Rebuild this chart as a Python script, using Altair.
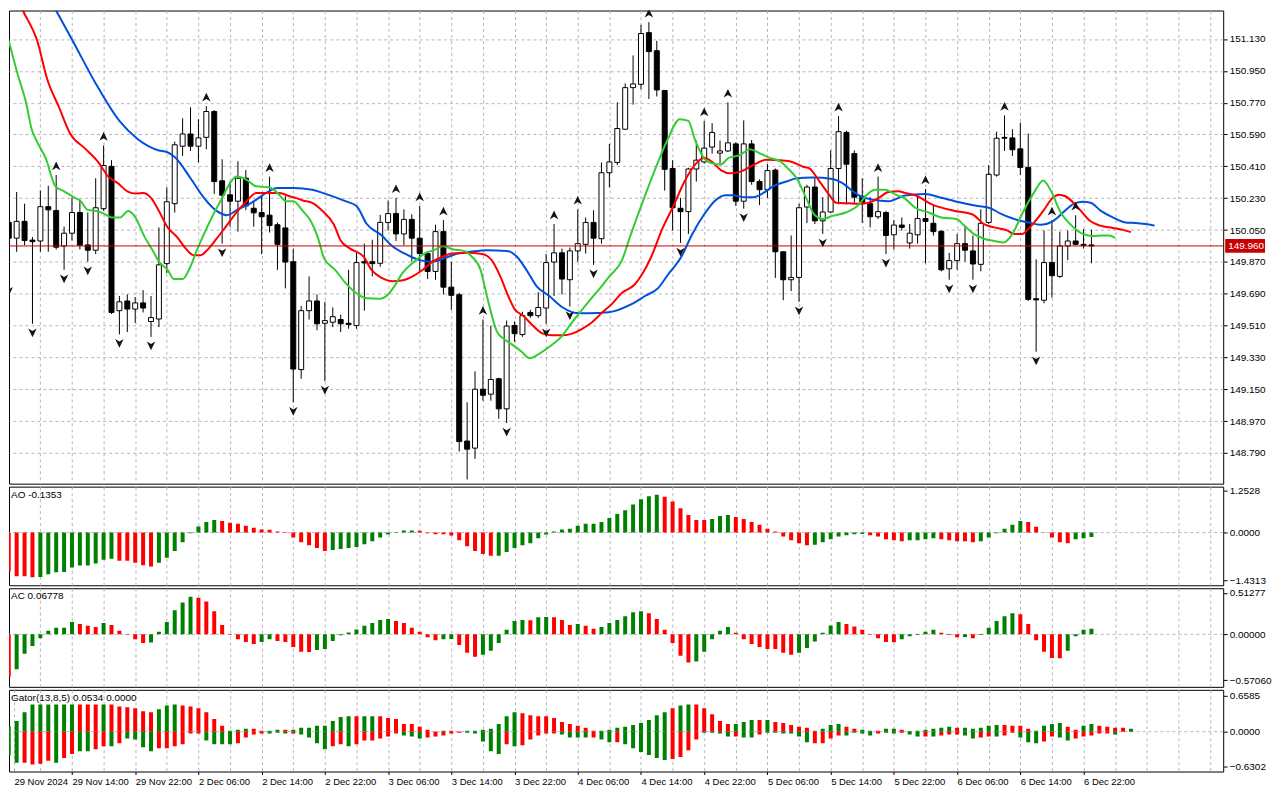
import json
import altair as alt
import pandas as pd

FONT = "Liberation Sans"
GRID = "#B8B2BE"
BLUE = "#0050DC"
RED = "#FF0000"
LIME = "#32CD32"
UPC = "#008000"
DNC = "#FF0000"
PRICE_RED = "#C80000"

# ---------------- data: hourly candles ----------------
opens = [
    150.093, 150.004, 150.099, 149.993, 149.988, 150.182, 150.160, 149.960, 150.032, 150.149,
    149.966, 149.936, 150.171, 150.410, 149.594, 149.649, 149.603, 149.638, 149.533, 149.547,
    149.860, 150.199, 150.524, 150.593, 150.524, 150.574, 150.720, 150.328, 150.249, 150.213,
    150.343, 150.173, 150.149, 150.134, 150.080, 150.062, 149.871, 149.261, 149.594, 149.649,
    149.523, 149.529, 149.544, 149.523, 149.510, 149.871, 149.871, 149.862, 150.093, 150.143,
    150.028, 150.110, 150.004, 149.917, 149.816, 150.041, 149.727, 149.684, 148.857, 148.817,
    149.150, 149.122, 149.209, 149.039, 149.510, 149.459, 149.584, 149.566, 149.609, 149.869,
    149.921, 149.769, 149.932, 149.969, 150.093, 150.001, 150.374, 150.432, 150.620, 150.855,
    150.874, 151.166, 151.064, 150.839, 150.398, 150.173, 150.154, 150.395, 150.435, 150.519,
    150.485, 150.497, 150.537, 150.213, 150.537, 150.324, 150.278, 150.389, 149.927, 149.769,
    149.782, 150.180, 150.293, 150.102, 150.152, 150.398, 150.602, 150.482, 150.241, 150.199,
    150.125, 150.149, 150.023, 150.078, 149.977, 150.023, 150.115, 150.088, 150.043, 149.831,
    149.877, 149.973, 149.932, 149.856, 150.093, 150.361, 150.574, 150.571, 150.509, 150.404,
    149.662, 149.653, 149.866, 149.788, 149.960, 149.988, 149.969, 149.966,
]
highs = [
    150.139, 150.265, 150.199, 150.010, 150.273, 150.300, 150.361, 150.069, 150.232, 150.223,
    150.149, 150.343, 150.528, 150.445, 149.677, 149.686, 149.671, 149.710, 149.677, 150.065,
    150.291, 150.550, 150.682, 150.744, 150.676, 150.750, 150.728, 150.450, 150.324, 150.439,
    150.389, 150.213, 150.241, 150.352, 150.093, 150.241, 149.945, 149.621, 149.788, 149.686,
    149.644, 149.612, 149.572, 149.825, 149.927, 149.973, 149.995, 150.136, 150.217, 150.232,
    150.167, 150.139, 150.186, 149.927, 150.080, 150.106, 149.871, 149.695, 149.076, 149.251,
    149.544, 149.510, 149.215, 149.538, 149.533, 149.588, 149.599, 149.699, 149.914, 150.084,
    149.945, 149.951, 150.167, 150.121, 150.162, 150.432, 150.537, 150.772, 150.879, 151.037,
    151.210, 151.225, 151.120, 150.842, 150.445, 150.232, 150.402, 150.556, 150.667, 150.654,
    150.556, 150.772, 150.546, 150.670, 150.559, 150.337, 150.423, 150.398, 149.927, 150.019,
    150.199, 150.306, 150.343, 150.236, 150.500, 150.694, 150.611, 150.500, 150.343, 150.236,
    150.352, 150.158, 150.106, 150.121, 150.084, 150.241, 150.282, 150.195, 150.047, 149.921,
    150.028, 150.069, 150.019, 150.167, 150.417, 150.606, 150.698, 150.620, 150.657, 150.596,
    149.884, 150.047, 150.106, 150.041, 150.047, 150.134, 150.056, 150.052,
]
lows = [
    149.755, 149.927, 149.964, 149.520, 149.927, 149.927, 149.940, 149.825, 149.991, 149.940,
    149.871, 149.914, 150.158, 149.575, 149.460, 149.473, 149.525, 149.584, 149.446, 149.501,
    149.806, 150.149, 150.469, 150.497, 150.432, 150.506, 150.254, 149.973, 150.069, 150.041,
    150.162, 150.069, 149.914, 150.036, 149.825, 149.720, 149.076, 149.209, 149.544, 149.483,
    149.196, 149.501, 149.473, 149.492, 149.492, 149.594, 149.788, 149.843, 150.047, 149.988,
    149.964, 149.871, 149.816, 149.773, 149.769, 149.686, 149.599, 148.798, 148.640, 148.756,
    149.085, 149.085, 148.983, 148.959, 149.418, 149.446, 149.553, 149.553, 149.520, 149.677,
    149.686, 149.618, 149.871, 149.917, 149.853, 149.973, 150.291, 150.417, 150.617, 150.759,
    150.846, 150.791, 150.805, 150.273, 150.047, 149.977, 150.028, 150.324, 150.426, 150.482,
    150.426, 150.491, 150.186, 150.171, 150.306, 150.191, 150.232, 149.779, 149.653, 149.705,
    149.644, 150.090, 150.084, 150.028, 150.145, 150.195, 150.195, 150.204, 150.090, 150.065,
    150.112, 149.914, 149.940, 150.047, 149.945, 149.973, 149.862, 150.019, 149.816, 149.769,
    149.825, 149.871, 149.769, 149.816, 150.084, 150.352, 150.497, 150.469, 150.361, 149.649,
    149.362, 149.636, 149.668, 149.779, 149.880, 149.964, 149.945, 149.862,
]
closes = [
    150.004, 150.099, 149.991, 149.984, 150.182, 150.164, 149.953, 150.032, 150.149, 149.964,
    149.936, 150.176, 150.415, 149.584, 149.644, 149.603, 149.638, 149.609, 149.555, 149.853,
    150.210, 150.532, 150.593, 150.524, 150.571, 150.720, 150.324, 150.247, 150.213, 150.343,
    150.186, 150.147, 150.125, 150.075, 149.969, 149.869, 149.264, 149.594, 149.649, 149.520,
    149.538, 149.560, 149.520, 149.516, 149.866, 149.864, 149.860, 150.093, 150.143, 150.028,
    150.110, 150.004, 149.917, 149.816, 150.041, 149.727, 149.681, 148.854, 148.811, 149.150,
    149.116, 149.205, 149.039, 149.507, 149.464, 149.566, 149.566, 149.612, 149.866, 149.921,
    149.773, 149.932, 149.973, 150.093, 150.004, 150.374, 150.435, 150.624, 150.855, 150.876,
    151.161, 151.059, 150.842, 150.393, 150.176, 150.154, 150.395, 150.445, 150.513, 150.602,
    150.497, 150.543, 150.213, 150.537, 150.324, 150.278, 150.386, 149.927, 149.769, 149.782,
    150.176, 150.293, 150.102, 150.152, 150.398, 150.606, 150.422, 150.236, 150.204, 150.125,
    150.154, 150.019, 150.078, 150.065, 150.032, 150.115, 150.099, 150.041, 149.825, 149.877,
    149.973, 149.936, 149.858, 150.088, 150.365, 150.569, 150.569, 150.504, 150.404, 149.658,
    149.655, 149.866, 149.792, 149.960, 149.988, 149.969, 149.962, 149.960,
]
up_fractals = [6, 12, 25, 33, 49, 52, 55, 60, 69, 72, 81, 88, 91, 105, 110, 116, 126, 132, 135]
down_fractals = [0, 3, 7, 10, 14, 18, 27, 36, 40, 58, 63, 68, 71, 74, 85, 93, 100, 103, 111, 119, 122, 130]

# Alligator (jaw/teeth/lips are shifted forward 8/5/3 bars)
jaw_x = [0, 3, 6, 8, 11, 14, 16.3, 19, 20, 21, 23, 24.7, 26.3, 27.6, 29, 30.7, 32.6, 34, 36, 38.4,
         39.7, 42.6, 44, 45.3, 47.2, 48.4, 50.5, 52, 53.6, 55.1, 56.8, 58.4, 60.5, 63, 64.3, 65.5,
         66.8, 68.4, 70.1, 71.8, 73.4, 75.9, 78.8, 80.5, 82.2, 83.4, 85.1, 86.5, 88, 89.3, 90.7,
         91.7, 93, 94.2, 95.5, 96.7, 98.4, 99.7, 101.7, 104.2, 105.5, 106.8, 108, 109.2, 111.3,
         113.4, 115.9, 118, 119.7, 122.6, 124.2, 125.5, 126.7, 128, 129, 130.5, 131.3, 132.5,
         133.4, 134.8, 135.9, 136.9, 138.2, 139.7, 141.3, 142.6, 143.8, 145]
jaw_y = [151.786, 151.545, 151.290, 151.127, 150.879, 150.667, 150.565, 150.500, 150.491, 150.463,
         150.343, 150.232, 150.158, 150.134, 150.167, 150.204, 150.260, 150.287, 150.287, 150.278,
         150.260, 150.213, 150.186, 150.084, 150.019, 149.964, 149.908, 149.880, 149.871, 149.890,
         149.917, 149.927, 149.936, 149.932, 149.899, 149.825, 149.732, 149.677, 149.612, 149.581,
         149.579, 149.585, 149.631, 149.677, 149.723, 149.797, 149.899, 150.028, 150.139, 150.213,
         150.247, 150.247, 150.236, 150.236, 150.260, 150.297, 150.324, 150.343, 150.347, 150.339,
         150.315, 150.269, 150.236, 150.223, 150.213, 150.245, 150.254, 150.232, 150.213, 150.186,
         150.173, 150.143, 150.121, 150.102, 150.093, 150.080, 150.084, 150.112, 150.149, 150.199,
         150.210, 150.204, 150.158, 150.121, 150.093, 150.090, 150.084, 150.075]
teeth_x = [0, 1.8, 3.6, 4.9, 6.3, 7.8, 9.7, 11.3, 12.6, 13.8, 15, 16.1, 17, 18, 19, 20.1, 21.3, 22.4,
           23.4, 24.3, 25.1, 26.3, 27.4, 28.8, 30.1, 31.3, 32.6, 34.3, 35.5, 36.3, 37.2, 38.4, 39.7,
           41.1, 42, 43.2, 44.9, 45.9, 47.2, 48.6, 49.9, 51.1, 52.4, 53.6, 54.7, 56.1, 58, 59.9,
           61.1, 62.2, 63.2, 64, 65.1, 66.3, 67.6, 68.8, 70.1, 71.3, 72.6, 73.8, 75.1, 76.3, 77.6,
           79.2, 80.1, 81.3, 82.6, 84.2, 85.5, 86.8, 88, 89, 90.1, 91.3, 92.6, 94.2, 95.9, 97.2,
           98.8, 100.5, 101.3, 102.6, 103.8, 104.7, 106.3, 107.8, 108.8, 110.1, 111.3, 112.6, 113.4,
           114.7, 116.8, 119.7, 121.9, 123.4, 124.7, 126.4, 127.2, 128.2, 129.2, 130.9, 132.1,
           132.9, 133.7, 135.5, 136.8, 138.1, 139.7, 141, 142]
teeth_y = [151.471, 151.290, 151.120, 150.898, 150.750, 150.593, 150.509, 150.435, 150.352, 150.315,
           150.269, 150.256, 150.260, 150.232, 150.158, 150.065, 150.010, 149.945, 149.908, 149.908,
           149.936, 150.001, 150.065, 150.149, 150.213, 150.260, 150.260, 150.260, 150.241, 150.232,
           150.217, 150.204, 150.158, 150.084, 149.991, 149.945, 149.899, 149.825, 149.779, 149.760,
           149.766, 149.788, 149.825, 149.871, 149.895, 149.917, 149.921, 149.914, 149.880, 149.788,
           149.677, 149.603, 149.566, 149.510, 149.464, 149.455, 149.455, 149.464, 149.492, 149.529,
           149.584, 149.631, 149.695, 149.742, 149.797, 149.899, 150.047, 150.195, 150.324, 150.417,
           150.458, 150.435, 150.389, 150.371, 150.380, 150.417, 150.448, 150.445, 150.439, 150.408,
           150.398, 150.324, 150.250, 150.204, 150.201, 150.199, 150.204, 150.232, 150.265, 150.269,
           150.260, 150.247, 150.195, 150.158, 150.139, 150.084, 150.065, 150.047, 150.028, 150.028,
           150.065, 150.158, 150.232, 150.250, 150.241, 150.167, 150.102, 150.075, 150.062, 150.051,
           150.038]
lips_x = [0, 1.1, 2.2, 2.9, 3.4, 4.7, 5.9, 7, 8.2, 9.1, 10, 11.1, 12.2, 13, 14.1, 15.1, 15.9, 17.2,
          18.2, 19, 20.1, 20.9, 22, 22.8, 23.8, 24.9, 25.9, 27, 28, 28.8, 30.1, 31.3, 33, 34, 35.1,
          36, 37.2, 38.2, 39.1, 39.9, 41.3, 42.6, 44.2, 45.3, 46.9, 48, 48.8, 49.8, 51.3, 52.6, 53.8,
          54.9, 56.3, 57.6, 58.6, 59.7, 60.5, 61.8, 62.6, 63.8, 64.9, 65.9, 67.2, 68.4, 69.9, 71.3,
          72.6, 73.8, 74.7, 76, 77.6, 78.6, 80.1, 82, 83.4, 84.9, 86, 86.8, 88, 89.1, 90.1, 91.1,
          92.4, 93.8, 95.1, 96.3, 97.6, 98.6, 99.7, 100.9, 101.9, 103, 104.2, 105.9, 107.6, 108.4,
          109.6, 110.9, 112.2, 113.4, 114.7, 116.4, 118, 119.9, 120.9, 122.1, 123.4, 124.7, 125.9,
          127, 128.2, 129.7, 130.9, 131.9, 133, 134.5, 135.9, 137.2, 138.4, 139.2, 140]
lips_y = [151.120, 150.935, 150.768, 150.620, 150.565, 150.454, 150.297, 150.269, 150.236, 150.213,
          150.164, 150.158, 150.139, 150.121, 150.121, 150.158, 150.130, 150.010, 149.936, 149.871,
          149.825, 149.773, 149.773, 149.825, 149.936, 150.047, 150.139, 150.232, 150.315, 150.352,
          150.334, 150.297, 150.291, 150.260, 150.213, 150.213, 150.158, 150.102, 150.010, 149.890,
          149.825, 149.751, 149.686, 149.664, 149.662, 149.686, 149.732, 149.806, 149.871, 149.917,
          149.936, 149.958, 149.940, 149.932, 149.899, 149.825, 149.677, 149.473, 149.436, 149.399,
          149.362, 149.325, 149.353, 149.390, 149.446, 149.529, 149.603, 149.668, 149.714, 149.788,
          149.880, 150.010, 150.195, 150.417, 150.565, 150.676, 150.667, 150.565, 150.454, 150.426,
          150.421, 150.458, 150.472, 150.506, 150.482, 150.458, 150.439, 150.398, 150.343, 150.232,
          150.139, 150.112, 150.130, 150.149, 150.195, 150.241, 150.278, 150.278, 150.250, 150.228,
          150.176, 150.149, 150.121, 150.112, 150.075, 150.028, 150.001, 149.988, 149.979, 150.028,
          150.139, 150.260, 150.330, 150.269, 150.158, 150.075, 150.028, 150.016, 150.019, 150.019,
          150.006]

# Awesome Oscillator
ao = [
    -1.168, -1.314, -1.314, -1.343, -1.34, -1.255, -1.197, -1.19, -1.051, -0.992,
    -0.99, -0.934, -0.817, -0.788, -0.846, -0.85, -0.905, -0.983, -1.022, -0.905,
    -0.759, -0.555, -0.292, -0.019, 0.185, 0.321, 0.379, 0.350, 0.292, 0.263,
    0.204, 0.146, 0.088, 0.085, 0.029, -0.01, -0.146, -0.292, -0.379, -0.467,
    -0.555, -0.525, -0.496, -0.467, -0.438, -0.350, -0.263, -0.146, -0.058, -0.015,
    0.058, 0.06, 0.055, -0.02, -0.049, -0.05, -0.088, -0.234, -0.409, -0.555,
    -0.642, -0.701, -0.695, -0.584, -0.467, -0.379, -0.321, -0.175, -0.058, 0.029,
    0.088, 0.117, 0.204, 0.263, 0.266, 0.321, 0.438, 0.555, 0.671, 0.847,
    1.002, 1.090, 1.138, 1.080, 0.934, 0.730, 0.525, 0.379, 0.375, 0.409,
    0.496, 0.525, 0.467, 0.409, 0.321, 0.234, 0.117, 0.029, -0.117, -0.234,
    -0.321, -0.379, -0.370, -0.292, -0.204, -0.117, -0.078, -0.049, -0.04, -0.078,
    -0.117, -0.204, -0.234, -0.263, -0.234, -0.23, -0.204, -0.175, -0.204, -0.234,
    -0.263, -0.265, -0.292, -0.263, -0.146, -0.02, 0.117, 0.234, 0.350, 0.321,
    0.175, -0.005, -0.146, -0.292, -0.321, -0.204, -0.175, -0.1353,
]
ao_color_runs = "r4 g10 r5 g8 r14 g11 r10 g21 r6 g3 r10 g7 r5 g4 r5 g6 r6 g3"

# Accelerator Oscillator
ac = [
    -0.527, -0.434, -0.241, -0.145, -0.048, 0.044, 0.080, 0.082, 0.153, 0.129,
    0.105, 0.092, 0.141, 0.117, 0.044, -0.004, -0.060, -0.109, -0.100, 0.032,
    0.153, 0.297, 0.394, 0.466, 0.454, 0.406, 0.285, 0.117, -0.004, -0.060,
    -0.096, -0.121, -0.096, -0.060, -0.084, -0.096, -0.157, -0.217, -0.219, -0.193,
    -0.181, -0.084, -0.012, 0.024, 0.060, 0.105, 0.141, 0.177, 0.189, 0.165,
    0.141, 0.080, 0.032, -0.036, -0.072, -0.060, -0.058, -0.133, -0.229, -0.277,
    -0.253, -0.205, -0.109, 0.056, 0.165, 0.177, 0.175, 0.213, 0.215, 0.211,
    0.177, 0.117, 0.129, 0.105, 0.068, 0.092, 0.141, 0.177, 0.225, 0.273,
    0.285, 0.261, 0.189, 0.056, -0.109, -0.265, -0.350, -0.338, -0.217, -0.060,
    0.044, 0.092, 0.020, -0.060, -0.121, -0.157, -0.181, -0.183, -0.229, -0.253,
    -0.229, -0.169, -0.088, 0.020, 0.109, 0.153, 0.129, 0.096, 0.056, -0.004,
    -0.048, -0.096, -0.098, -0.060, -0.024, -0.008, 0.032, 0.056, 0.020, -0.008,
    -0.036, -0.034, -0.048, -0.008, 0.080, 0.165, 0.225, 0.261, 0.249, 0.129,
    -0.072, -0.217, -0.293, -0.295, -0.205, -0.024, 0.056, 0.06778,
]
ac_color_runs = ("r1 g8 r3 g1 r5 g6 r8 g2 r5 g10 r6 g2 r3 g6 r1 g2 r3 g1 r2 g6 r6 g5 r8 g6 "
                 "r7 g5 r3 g1 r1 g5 r6 g4")

# Gator oscillator
gator_up = [
    0.100, 0.194, 0.353, 0.494, 0.494, 0.494, 0.494, 0.494, 0.494, 0.494,
    0.494, 0.494, 0.494, 0.494, 0.459, 0.441, 0.423, 0.370, 0.353, 0.406,
    0.476, 0.494, 0.476, 0.459, 0.423, 0.353, 0.229, 0.106, 0.018, 0.035,
    0.053, 0.053, 0.018, 0.018, 0.035, 0.035, 0.035, 0.071, 0.071, 0.106,
    0.106, 0.194, 0.265, 0.282, 0.282, 0.282, 0.282, 0.282, 0.247, 0.229,
    0.141, 0.141, 0.088, 0.035, 0.003, 0.018, 0.018, 0.005, 0.018, 0.018,
    0.035, 0.053, 0.141, 0.282, 0.353, 0.335, 0.300, 0.282, 0.282, 0.247,
    0.176, 0.141, 0.106, 0.071, 0.018, 0.018, 0.035, 0.071, 0.088, 0.123,
    0.159, 0.212, 0.300, 0.353, 0.423, 0.476, 0.494, 0.494, 0.423, 0.318,
    0.194, 0.141, 0.141, 0.176, 0.212, 0.212, 0.212, 0.176, 0.159, 0.123,
    0.088, 0.071, 0.018, 0.053, 0.123, 0.141, 0.088, 0.053, 0.035, 0.018,
    0.018, 0.053, 0.053, 0.035, 0.012, 0.018, 0.035, 0.053, 0.071, 0.088,
    0.071, 0.071, 0.053, 0.071, 0.106, 0.123, 0.123, 0.106, 0.106, 0.053,
    0.018, 0.106, 0.141, 0.159, 0.088, 0.035, 0.106, 0.141, 0.106, 0.088,
    0.071, 0.071, 0.0534,
]
gator_up_runs = ("g9 r3 g1 r6 g3 r6 g3 r2 g2 r1 g8 r1 g2 r8 g1 r2 g7 r10 g9 r1 g2 r5 g3 r1 g1 "
                 "r6 g3 r2 g2 r1 g2 r1 g6 r1 g5 r4 g4 r2 g2 r4 g1")
gator_dn = [
    -0.429, -0.564, -0.564, -0.594, -0.582, -0.529, -0.564, -0.476, -0.406, -0.353,
    -0.353, -0.318, -0.265, -0.265, -0.212, -0.123, -0.141, -0.282, -0.353, -0.300,
    -0.300, -0.265, -0.229, -0.035, -0.035, -0.159, -0.229, -0.229, -0.229, -0.212,
    -0.106, -0.053, -0.035, -0.035, -0.018, -0.035, -0.035, -0.053, -0.106, -0.212,
    -0.318, -0.265, -0.229, -0.265, -0.229, -0.159, -0.159, -0.123, -0.088, -0.035,
    -0.071, -0.088, -0.123, -0.106, -0.088, -0.071, -0.035, -0.018, -0.018, -0.035,
    -0.176, -0.353, -0.406, -0.229, -0.265, -0.247, -0.141, -0.071, -0.035, -0.035,
    -0.053, -0.106, -0.106, -0.106, -0.106, -0.141, -0.194, -0.194, -0.229, -0.300,
    -0.370, -0.423, -0.476, -0.512, -0.494, -0.459, -0.335, -0.141, -0.018, -0.018,
    -0.035, -0.088, -0.088, -0.106, -0.106, -0.053, -0.018, -0.018, -0.035, -0.035,
    -0.088, -0.194, -0.212, -0.212, -0.123, -0.071, -0.071, -0.018, -0.035, -0.071,
    -0.035, -0.018, -0.035, -0.018, -0.053, -0.088, -0.088, -0.088, -0.071, -0.053,
    -0.053, -0.071, -0.123, -0.106, -0.088, -0.088, -0.071, -0.018, -0.106, -0.194,
    -0.212, -0.176, -0.088, -0.106, -0.159, -0.123, -0.088, -0.071, -0.035, -0.035,
    -0.053,
]
gator_dn_runs = ("g2 r4 g1 r2 g2 r2 g1 r1 g4 r6 g4 r4 g3 r1 g4 r2 g1 r6 g3 r5 g5 r1 g1 r5 g4 "
                 "r1 g2 r1 g6 r4 g4 r1 g2 r1 g6 r4 g4 r1 g2 r1 g2 r1 g1 r3 g2 r2 g1 r2 g3 r2 "
                 "g2 r5 g1")

price_ticks = [148.79, 148.97, 149.15, 149.33, 149.51, 149.69, 149.87, 150.05, 150.23,
               150.41, 150.59, 150.77, 150.95, 151.13]
ao_ticks = [1.2528, 0.0, -1.4313]
ac_ticks = [0.51277, 0.0, -0.5706]
gator_ticks = [0.6585, 0.0, -0.6302]
x_labels = ["29 Nov 2024", "29 Nov 14:00", "29 Nov 22:00", "2 Dec 06:00", "2 Dec 14:00",
            "2 Dec 22:00", "3 Dec 06:00", "3 Dec 14:00", "3 Dec 22:00", "4 Dec 06:00",
            "4 Dec 14:00", "4 Dec 22:00", "5 Dec 06:00", "5 Dec 14:00", "5 Dec 22:00",
            "6 Dec 06:00", "6 Dec 14:00", "6 Dec 22:00"]
last_price = 149.960
gator_title = "Gator(13,8,5) 0.0534 0.0000"


def expand(spec):
    out = []
    for tok in spec.split():
        out += [tok[0]] * int(tok[1:])
    return out


# ---------------- layout ----------------
W = 1219
H_MAIN, H_AO, H_AC, H_G = 475, 99, 99, 82
X0 = 0.66
XS = alt.Scale(domain=[X0, 153.04], nice=False, zero=False)
grid_vals = list(range(4, 153, 4))
label_step = 8
last_label = label_step * (len(x_labels) - 1)


def xe(field, bottom=False):
    if bottom:
        cond = f"datum.value % {label_step} == 0 && datum.value <= {last_label}"
        arr = json.dumps(x_labels)
        axis = alt.Axis(values=[X0] + grid_vals, grid=True, gridDash=[3, 3], gridColor=GRID,
                        domain=False, ticks=True, tickSize=3, tickColor="black",
                        tickOpacity={"condition": {"test": cond, "value": 1}, "value": 0},
                        labelExpr=(f"datum.value < 1 ? {arr}[0] : ({cond} ? "
                                   f"{arr}[datum.value / {label_step}] : '')"),
                        labelAlign="left", labelPadding=2, labelOverlap=False, labelFlush=False,
                        labelBound=False, labelFont=FONT, labelFontSize=9.5, labelColor="black",
                        title=None)
    else:
        axis = alt.Axis(values=grid_vals, grid=True, gridDash=[3, 3], gridColor=GRID,
                        domain=False, ticks=False, labels=False, title=None)
    return alt.X(f"{field}:Q", scale=XS, axis=axis)


def ye(field, domain, ticks, fmt, grid):
    return alt.Y(f"{field}:Q", scale=alt.Scale(domain=domain, nice=False, zero=False),
                 axis=alt.Axis(orient="right", values=ticks, format=fmt, grid=grid,
                               gridDash=[3, 3], gridColor=GRID, domain=False, tickSize=4,
                               tickColor="black", labelFont=FONT, labelFontSize=10,
                               labelColor="black", labelPadding=2, labelOverlap=False,
                               labelFlush=False, title=None))


MAIN_DOM = [148.616, 151.291]


def ym(field):
    return ye(field, MAIN_DOM, price_ticks, ".3f", True)


cdf = pd.DataFrame({"i": list(range(len(opens))), "open": opens, "high": highs,
                    "low": lows, "close": closes})
cdf["dir"] = ["up" if c > o else "down" for o, c in zip(opens, closes)]

wicks = alt.Chart(cdf).mark_rule(color="black", strokeWidth=1, clip=True).encode(
    x=xe("i"), y=ym("low"), y2="high:Q")
bodies = alt.Chart(cdf).mark_bar(width=5, stroke="black", strokeWidth=1, clip=True).encode(
    x=xe("i"), y=ym("open"), y2="close:Q",
    fill=alt.Fill("dir:N", scale=alt.Scale(domain=["up", "down"], range=["white", "black"]),
                  legend=None))


def line(xs, ys, color):
    df = pd.DataFrame({"x": xs, "y": ys})
    return alt.Chart(df).mark_line(color=color, strokeWidth=2, clip=True,
                                   interpolate="monotone").encode(x=xe("x"), y=ym("y"))


UP_SHAPE = "M0,-0.9 L0.85,0.85 L0,0.35 L-0.85,0.85 Z"
DN_SHAPE = "M0,0.9 L0.85,-0.85 L0,-0.35 L-0.85,-0.85 Z"
up_df = cdf.iloc[up_fractals]
dn_df = cdf.iloc[down_fractals]
up_marks = alt.Chart(up_df).mark_point(shape=UP_SHAPE, filled=True, size=100, color="#141414",
                                       opacity=1, strokeWidth=0, yOffset=-9, clip=True).encode(
    x=xe("i"), y=ym("high"))
dn_marks = alt.Chart(dn_df).mark_point(shape=DN_SHAPE, filled=True, size=100, color="#141414",
                                       opacity=1, strokeWidth=0, yOffset=9, clip=True).encode(
    x=xe("i"), y=ym("low"))

lp_df = pd.DataFrame({"p": [last_price], "t": [f"{last_price:.3f}"]})
lp_rule = alt.Chart(lp_df).mark_rule(color=PRICE_RED, strokeWidth=1).encode(y=ym("p"))
lp_box = alt.Chart(lp_df).transform_calculate(
    lo="datum.p - 0.039", hi="datum.p + 0.039").mark_rect(color=PRICE_RED).encode(
    x=alt.value(W + 2), x2=alt.value(W + 42), y=ym("lo"), y2="hi:Q")
lp_text = alt.Chart(lp_df).mark_text(color="white", align="left", baseline="middle",
                                     font=FONT, fontSize=10).encode(
    x=alt.value(W + 5), y=ym("p"), text="t:N")

main = alt.layer(
    wicks, bodies,
    line(jaw_x, jaw_y, BLUE), line(teeth_x, teeth_y, RED), line(lips_x, lips_y, LIME),
    lp_rule, up_marks, dn_marks, lp_box, lp_text,
).properties(width=W, height=H_MAIN)

COLS = alt.Scale(domain=["g", "r"], range=[UPC, DNC])


def title_layer(txt):
    return alt.Chart(pd.DataFrame({"t": [txt]})).mark_text(
        align="left", baseline="top", font=FONT, fontSize=10, color="black").encode(
        x=alt.value(2), y=alt.value(3), text="t:N")


def osc_panel(series_list, domain, ticks, fmt, txt, height, bottom=False):
    zero = alt.Chart(pd.DataFrame({"v": [0.0]})).mark_rule(
        color=GRID, strokeDash=[3, 3], strokeWidth=1).encode(y=ye("v", domain, ticks, fmt, False))
    layers = [zero]
    for vals, cols in series_list:
        df = pd.DataFrame({"i": list(range(len(vals))), "v": vals, "c": cols})
        layers.append(alt.Chart(df).mark_bar(width=4, clip=True).encode(
            x=xe("i", bottom), y=ye("v", domain, ticks, fmt, False), y2=alt.datum(0),
            color=alt.Color("c:N", scale=COLS, legend=None)))
    layers.append(title_layer(txt))
    return alt.layer(*layers).properties(width=W, height=height)


ao_panel = osc_panel([(ao, expand(ao_color_runs))], [-1.586, 1.381], ao_ticks, ".4f",
                     f"AO {ao[-1]:.4f}", H_AO)
ac_panel = osc_panel([(ac, expand(ac_color_runs))], [-0.651, 0.571], ac_ticks, ".5f",
                     f"AC {ac[-1]:.5f}", H_AC)
gator_panel = osc_panel([(gator_up, expand(gator_up_runs)), (gator_dn, expand(gator_dn_runs))],
                        [-0.723, 0.759], gator_ticks, ".4f", gator_title, H_G, bottom=True)

chart = alt.vconcat(main, ao_panel, ac_panel, gator_panel, spacing=3, bounds="flush").properties(
    padding=0, background="white"
).configure_view(stroke="black", strokeWidth=1).configure_axis(labelFont=FONT)

chart.save("out.html", embed_options={"renderer": "svg", "actions": False})
